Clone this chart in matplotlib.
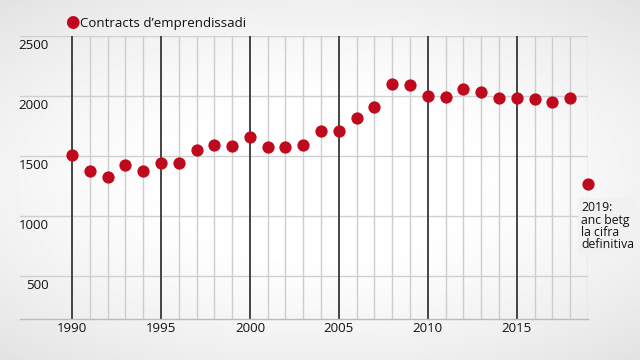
import numpy as np
import matplotlib
matplotlib.use('Agg')
import matplotlib.pyplot as plt

years = np.arange(1990, 2020)
contracts = [1510, 1378, 1322, 1425, 1372, 1439, 1444, 1553, 1592, 1586,
             1656, 1575, 1575, 1592, 1705, 1711, 1819, 1911, 2100, 2092,
             2003, 1992, 2058, 2031, 1986, 1986, 1978, 1950, 1986, 1267]
yticks = [500, 1000, 1500, 2000, 2500]
xticks = [1990, 1995, 2000, 2005, 2010, 2015]
legend_label = 'Contracts d\u2019emprendissadi'
note = '2019:\nanc betg\nla cifra\ndefinitiva'

red = '#bf0a1e'
plt.rcParams['font.family'] = ['Open Sans', 'DejaVu Sans']

fig = plt.figure(figsize=(6.4, 3.6), dpi=100)

# soft radial background
bg = fig.add_axes([0, 0, 1, 1], zorder=-10)
yy, xx = np.mgrid[-1:1:200j, -1:1:360j]
r = np.sqrt((xx * 0.9) ** 2 + (yy * 1.0) ** 2)
bg.imshow(1 - 0.12 * np.clip(r - 0.4, 0, None) ** 1.3, cmap='gray', vmin=0, vmax=1,
          aspect='auto', extent=[0, 1, 0, 1])
bg.axis('off')

ax = fig.add_axes([20 / 640, 41 / 360, 568 / 640, 283 / 360])
ax.patch.set_alpha(0)
ax.set_xlim(1987.08, 2019)
ax.set_ylim(140, 2500)

for y in yticks:
    ax.axhline(y, color='#d0d0d0', lw=1, zorder=1)
for yr in range(1991, 2020):
    if yr not in xticks:
        ax.axvline(yr, color='#cdcdcd', lw=1, zorder=1)
for yr in xticks:
    ax.axvline(yr, color='#444444', lw=1.4, zorder=2)

ax.scatter(years, contracts, s=78, color=red, zorder=7, clip_on=False, linewidths=0)

for s in ['top', 'right', 'left']:
    ax.spines[s].set_visible(False)
ax.spines['bottom'].set_color('#bbbbbb')
ax.spines['bottom'].set_linewidth(1)

ax.set_xticks(xticks)
ax.set_xticklabels([str(x) for x in xticks], fontsize=9.5, color='#111111')
ax.tick_params(axis='x', length=0, pad=2)
ax.set_yticks([])
for y in yticks:
    ax.text(1988.7, y - 28, str(y), ha='right', va='top', fontsize=9.5, color='#111111')

ax.text(2018.6, 1120, note, ha='left', va='top', fontsize=8.8, color='#111111',
        linespacing=0.92, zorder=6, clip_on=False,
        bbox=dict(boxstyle='square,pad=0.25', facecolor='#f1f1f1', edgecolor='none'))

fig.text(72 / 640, 1 - 23 / 360, '\u25cf', color=red, fontsize=12, ha='center', va='center')
fig.text(80 / 640, 1 - 23 / 360, legend_label, fontsize=9.5, color='#111111', ha='left', va='center')

fig.savefig('out.png', dpi=100)
